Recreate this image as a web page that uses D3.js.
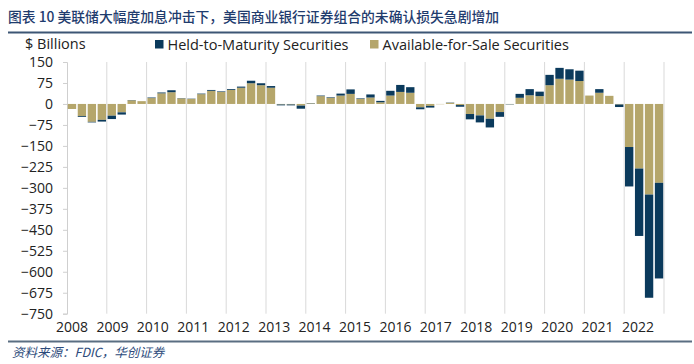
<!DOCTYPE html>
<html><head><meta charset="utf-8">
<script src="https://cdn.jsdelivr.net/npm/d3@7"></script>
<style>
html,body{margin:0;padding:0;background:#fff;}
svg{display:block;}
</style></head>
<body>
<svg id="chart" width="694" height="364"></svg>
<script>
// Quarterly data 2008Q1 - 2022Q4 ($ billions)
const years = [2008,2009,2010,2011,2012,2013,2014,2015,2016,2017,2018,2019,2020,2021,2022];
const quarters = years.flatMap(y => [1,2,3,4].map(q => y + "Q" + q));
const afs = [
  -18, -43, -64, -57,
  -42, -30, 13, 10,
  21, 38, 42, 20,
  18, 35, 47, 43,
  50, 58, 74, 67,
  58, -2, -2, -6,
  2, 28, 22, 30,
  36, 18, 23, 6,
  30, 43, 40, -12,
  -7, -1, 4, -4,
  -36, -41, -53, -29,
  -1, 22, 31, 28,
  67, 90, 87, 82,
  30, 40, 29, -2,
  -154, -231, -324, -282
];
const htm = [
  0, -3, -2, -6,
  -12, -8, 1, 0,
  2, 3, 7, 1,
  1, 2, 3, 2,
  3, 4, 9, 7,
  6, -3, -3, -11,
  1, 2, 2, 7,
  16, 2, 11, 5,
  17, 25, 20, -7,
  -6, 0, 1, -6,
  -19, -25, -31, -17,
  -1, 14, 22, 16,
  37, 39, 37, 37,
  0, 13, 0, -9,
  -141, -241, -369, -342
];
const yTicks = [150, 75, 0, -75, -150, -225, -300, -375, -450, -525, -600, -675, -750];
const seriesNames = ["Held-to-Maturity Securities", "Available-for-Sale Securities"];
const colors = {htm: "#0b3a5c", afs: "#b5a66b"};

const svg = d3.select("#chart");
const plot = {left: 67, right: 664, top: 62, bottom: 313.7};

// Title
svg.append("text").attr("x", 8).attr("y", 22)
  .attr("font-family", "Noto Sans CJK SC").attr("font-size", 13.8).attr("font-weight", 500)
  .attr("fill", "#1f3c6e")
  .text("图表 10 美联储大幅度加息冲击下，美国商业银行证券组合的未确认损失急剧增加");
svg.append("line").attr("x1", 8).attr("x2", 692).attr("y1", 32.5).attr("y2", 32.5)
  .attr("stroke", "#3d5675").attr("stroke-width", 2);

// Unit label
svg.append("text").attr("x", 25).attr("y", 49)
  .attr("font-family", "Open Sans").attr("font-size", 14.5).attr("fill", "#222")
  .text("$ Billions");

// Legend
const legend = [{key: "htm", name: seriesNames[0], x: 155}, {key: "afs", name: seriesNames[1], x: 370}];
const lg = svg.append("g");
legend.forEach(d => {
  lg.append("rect").attr("x", d.x).attr("y", 40).attr("width", 8.5).attr("height", 8.5).attr("fill", colors[d.key]);
  lg.append("text").attr("x", d.x + 12.5).attr("y", 49.5)
    .attr("font-family", "Open Sans").attr("font-size", 14.5).attr("fill", "#222").text(d.name);
});

// Scales
const x = d3.scaleBand().domain(quarters).range([plot.left, plot.right]).paddingInner(0.16).paddingOuter(0.08);
const y = d3.scaleLinear().domain([-750, 150]).range([plot.bottom, plot.top]);
const yearX = d3.scaleLinear().domain([2008, 2023]).range([plot.left, plot.right]);
const labelX = d3.scalePoint().domain(years).range([72, 638]);

// Vertical gridlines at year boundaries
svg.append("g").selectAll("line").data(d3.range(2009, 2024)).join("line")
  .attr("x1", d => yearX(d)).attr("x2", d => yearX(d))
  .attr("y1", plot.top).attr("y2", plot.bottom)
  .attr("stroke", "#d9d9d9").attr("stroke-width", 1);

// Y axis
const yAxis = svg.append("g").attr("transform", `translate(${plot.left},0)`)
  .call(d3.axisLeft(y).tickValues(yTicks).tickSize(4).tickPadding(10).tickFormat(d3.format("d")));
yAxis.select(".domain").attr("stroke", "#cfcfcf");
yAxis.selectAll(".tick line").attr("stroke", "#cfcfcf");
yAxis.selectAll("text").attr("font-family", "Open Sans").attr("font-size", 14).attr("fill", "#222");

// Stacked bars
const table = quarters.map((q, i) => ({q, afs: afs[i], htm: htm[i]}));
const stack = d3.stack().keys(["afs", "htm"]).offset(d3.stackOffsetDiverging);
const layers = stack(table);
svg.append("g").selectAll("g").data(layers).join("g")
  .attr("fill", d => colors[d.key])
  .selectAll("rect").data(d => d).join("rect")
  .attr("x", d => x(d.data.q))
  .attr("width", x.bandwidth())
  .attr("y", d => y(Math.max(d[0], d[1])))
  .attr("height", d => Math.abs(y(d[0]) - y(d[1])));

// X labels
svg.append("g").selectAll("text").data(years).join("text")
  .attr("x", d => labelX(d)).attr("y", 332)
  .attr("text-anchor", "middle")
  .attr("font-family", "Open Sans").attr("font-size", 14).attr("fill", "#222")
  .text(d => d);

// Bottom rule and source
svg.append("line").attr("x1", 8).attr("x2", 692).attr("y1", 341.5).attr("y2", 341.5)
  .attr("stroke", "#5a6e82").attr("stroke-width", 2);
svg.append("text").attr("x", 12).attr("y", 356.5)
  .attr("font-family", "Noto Sans CJK SC").attr("font-size", 12.5).attr("font-style", "italic")
  .attr("fill", "#2c4a7a")
  .text("资料来源：FDIC，华创证券");
</script>
</body></html>
